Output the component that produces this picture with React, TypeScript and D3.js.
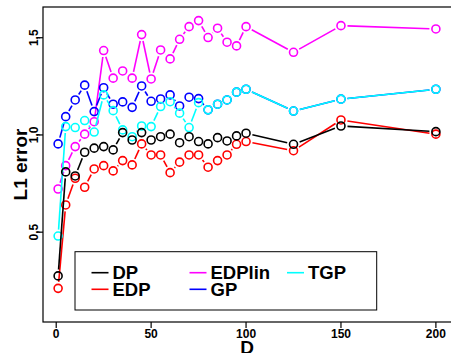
import React from "react";
import * as d3 from "d3";

const D = [1, 5, 10, 15, 20, 25, 30, 35, 40, 45, 50, 55, 60, 65, 70, 75, 80, 85, 90, 95, 100, 125, 150, 200];

const DP = [0.275, 0.81, 0.789, 0.911, 0.932, 0.94, 0.923, 1.012, 0.974, 1.012, 0.974, 0.991, 1.004, 0.96, 0.991, 0.966, 0.954, 0.986, 0.969, 0.995, 1.009, 0.952, 1.046, 1.017];
const EDP = [0.211, 0.64, 0.777, 0.731, 0.825, 0.842, 0.815, 0.868, 0.846, 0.954, 0.897, 0.897, 0.806, 0.86, 0.897, 0.897, 0.834, 0.868, 0.897, 0.952, 0.966, 0.919, 1.077, 1.004];
const EDPlin = [0.722, 0.842, 0.94, 1.004, 1.068, 1.434, 1.292, 1.329, 1.292, 1.516, 1.288, 1.437, 1.391, 1.492, 1.557, 1.588, 1.501, 1.549, 1.477, 1.458, 1.557, 1.425, 1.562, 1.545];
const TGP = [0.48, 1.043, 1.038, 1.074, 1.015, 1.206, 1.125, 1.026, 0.991, 1.046, 1.043, 1.146, 1.171, 1.112, 1.038, 1.166, 1.129, 1.158, 1.18, 1.22, 1.235, 1.123, 1.184, 1.235];
const GP = [0.954, 1.094, 1.18, 1.256, 1.12, 1.243, 1.158, 1.17, 1.142, 1.252, 1.173, 1.185, 1.206, 1.149, 1.194, 1.187, 1.129, 1.158, 1.18, 1.22, 1.235, 1.123, 1.184, 1.235];

const xTicks = [0, 50, 100, 150, 200];
const yTicks = [0.5, 1.0, 1.5];

const seriesNames = ["DP", "EDP", "EDPlin", "GP", "TGP"];
const seriesColors = ["#000000", "#ff0000", "#ff00ff", "#0000ff", "#00ffff"];
const seriesData = [DP, EDP, EDPlin, GP, TGP];
const drawOrder = [1, 2, 3, 4, 0];

const FONT = "'Liberation Sans', Arial, Helvetica, sans-serif";

export default function App() {
  const W = 451, H = 353;
  const left = 43, right = 451, top = 7, bottom = 322;
  const x = d3.scaleLinear().domain([-6.96, 207.96]).range([left, right]);
  const y = d3.scaleLinear().domain([0.038, 1.658]).range([bottom, top]);
  const r = 4;
  const gap = 6.5;

  const segs = (vals: number[]) => {
    const out: { x1: number; y1: number; x2: number; y2: number }[] = [];
    for (let i = 0; i < vals.length - 1; i++) {
      const ax = x(D[i]), ay = y(vals[i]);
      const bx = x(D[i + 1]), by = y(vals[i + 1]);
      const len = Math.hypot(bx - ax, by - ay);
      if (len <= 2 * gap) continue;
      const ux = (bx - ax) / len, uy = (by - ay) / len;
      out.push({ x1: ax + ux * gap, y1: ay + uy * gap, x2: bx - ux * gap, y2: by - uy * gap });
    }
    return out;
  };

  const fmt = (v: number) => v.toFixed(1).replace(".", ",");

  const legendCols = [91.5, 189.5, 287];
  const legendRows = [272.7, 289.3];
  const legendPos = [
    [0, 0], [0, 1], [1, 0], [1, 1], [2, 0],
  ];

  return (
    <svg width={W} height={H} style={{ position: "absolute", left: 0, top: 0, background: "#fff" }}>
      <defs>
        <clipPath id="plotclip">
          <rect x={left} y={top} width={right - left} height={bottom - top} />
        </clipPath>
      </defs>
      <rect x={0} y={0} width={W} height={H} fill="#fff" />
      <g clipPath="url(#plotclip)">
        {drawOrder.map((si) => (
          <g key={si}>
            {segs(seriesData[si]).map((s, i) => (
              <line key={i} {...s} stroke={seriesColors[si]} strokeWidth={1.6} />
            ))}
            {seriesData[si].map((v, i) => (
              <circle key={"c" + i} cx={x(D[i])} cy={y(v)} r={r} fill="none" stroke={seriesColors[si]} strokeWidth={1.6} />
            ))}
          </g>
        ))}
      </g>
      {/* box */}
      <rect x={left} y={top} width={right - left + 5} height={bottom - top} fill="none" stroke="#000" strokeWidth={1.2} />
      {/* x axis ticks */}
      {xTicks.map((t) => (
        <g key={t}>
          <line x1={x(t)} x2={x(t)} y1={bottom} y2={bottom + 6} stroke="#000" strokeWidth={1.2} />
          <text x={x(t)} y={337.5} textAnchor="middle" fontFamily={FONT} fontWeight="bold" fontSize={12}>{t}</text>
        </g>
      ))}
      {yTicks.map((t) => (
        <g key={t}>
          <line x1={left - 6} x2={left} y1={y(t)} y2={y(t)} stroke="#000" strokeWidth={1.2} />
          <text transform={`translate(37.5,${y(t)}) rotate(-90)`} textAnchor="middle" fontFamily={FONT} fontWeight="bold" fontSize={12}>{fmt(t)}</text>
        </g>
      ))}
      <text x={(left + right) / 2} y={354} textAnchor="middle" fontFamily={FONT} fontWeight="bold" fontSize={19}>D</text>
      <text transform={`translate(27,${(top + bottom) / 2}) rotate(-90)`} textAnchor="middle" fontFamily={FONT} fontWeight="bold" fontSize={19}>L1 error</text>
      {/* legend */}
      <rect x={75} y={251.7} width={301.7} height={58.3} fill="#fff" stroke="#000" strokeWidth={1} />
      {seriesNames.map((n, i) => {
        const [c, rr] = legendPos[i];
        const lx = legendCols[c];
        const ly = legendRows[rr];
        return (
          <g key={n}>
            <line x1={lx} x2={lx + 17} y1={ly} y2={ly} stroke={seriesColors[i]} strokeWidth={1.6} />
            <text x={lx + 21} y={ly + 6.7} fontFamily={FONT} fontWeight="bold" fontSize={18.5}>{n}</text>
          </g>
        );
      })}
    </svg>
  );
}
